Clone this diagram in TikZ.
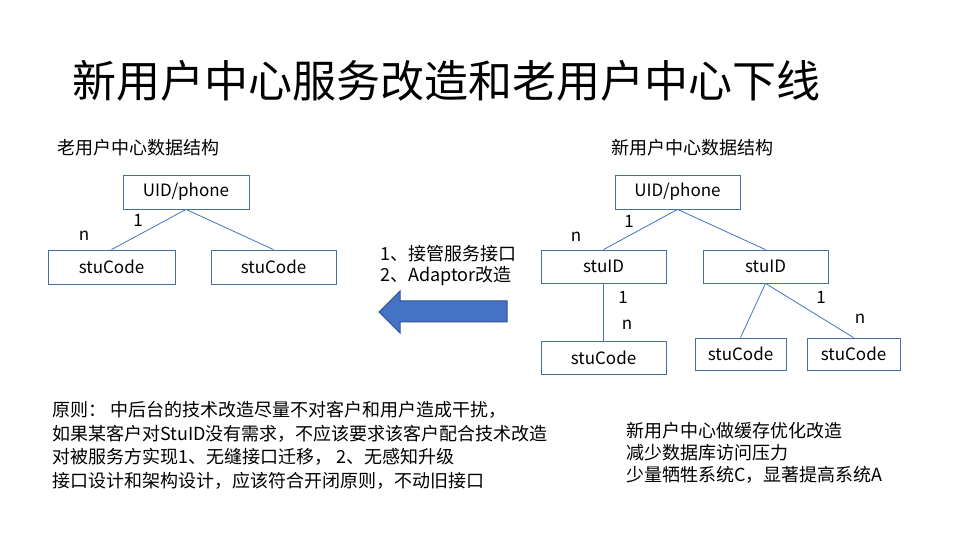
\documentclass[tikz,border=0pt]{standalone}
\usepackage{fontspec}
\setmainfont{Noto Sans CJK SC}
\definecolor{linec}{HTML}{4472C4}
\definecolor{boxc}{HTML}{41719C}
\definecolor{arrowfill}{HTML}{4472C4}
\definecolor{arrowedge}{HTML}{2F528F}
\begin{document}
\begin{tikzpicture}[x=1bp,y=-1bp,
  box/.style={draw=boxc,line width=0.8bp,inner sep=0pt,minimum height=34bp,font=\fontsize{17bp}{20bp}\selectfont},
  conn/.style={draw=linec,line width=0.8bp},
  lbl/.style={inner sep=0pt,font=\fontsize{17bp}{20bp}\selectfont},
  para/.style={inner sep=0pt,anchor=west,align=left,font=\fontsize{18bp}{23.5bp}\selectfont}]
\useasboundingbox (0,0) rectangle (960,540);
% title
\node[inner sep=0pt,anchor=west,font=\fontsize{44bp}{50bp}\selectfont] (title) at (72,81) {新用户中心服务改造和老用户中心下线};
% old tree
\node[para] (oldhead) at (57,148) {老用户中心数据结构};
\node[box,minimum width=126bp] (ouid) at (186,192) {UID/phone};
\node[box,minimum width=127bp] (os1) at (111.5,267) {stuCode};
\node[box,minimum width=125bp] (os2) at (273.5,267) {stuCode};
\draw[conn] (ouid.south) -- (os1.north);
\draw[conn] (ouid.south) -- (os2.north);
\node[lbl] (o1) at (138,220) {1};
\node[lbl] (on) at (84,236) {n};
% middle
\node[para,font=\fontsize{18bp}{21bp}\selectfont] (mid) at (380,265) {1、接管服务接口\\2、Adaptor改造};
\fill[arrowfill,draw=arrowedge,line width=1bp] (379,312) -- (400,291) -- (400,301) -- (507,301) -- (507,322) -- (400,322) -- (400,333) -- cycle;
% new tree
\node[para] (newhead) at (611,148) {新用户中心数据结构};
\node[box,minimum width=125bp] (nuid) at (677.5,192) {UID/phone};
\node[box,minimum width=125bp,minimum height=33bp] (nid1) at (603.5,266.5) {stuID};
\node[box,minimum width=125bp,minimum height=33bp] (nid2) at (765.5,266.5) {stuID};
\node[box,minimum width=125bp,minimum height=33bp] (nc1) at (603.5,357.5) {stuCode};
\node[box,minimum width=91bp,minimum height=32bp] (nc2) at (740.5,354) {stuCode};
\node[box,minimum width=93bp,minimum height=32bp] (nc3) at (853.5,354) {stuCode};
\draw[conn] (nuid.south) -- (nid1.north);
\draw[conn] (nuid.south) -- (nid2.north);
\draw[conn] (nid1.south) -- (nc1.north);
\draw[conn] (nid2.south) -- (nc2.north);
\draw[conn] (nid2.south) -- (nc3.north);
\node[lbl] (n1a) at (629,221) {1};
\node[lbl] (nna) at (576,237) {n};
\node[lbl] (n1b) at (623,297) {1};
\node[lbl] (nnb) at (627,325) {n};
\node[lbl] (n1c) at (821,297) {1};
\node[lbl] (nnc) at (860,319) {n};
% bottom texts
\node[para] (principle) at (52,445.5) {原则： 中后台的技术改造尽量不对客户和用户造成干扰，\\如果某客户对StuID没有需求，不应该要求该客户配合技术改造\\对被服务方实现1、无缝接口迁移， 2、无感知升级\\接口设计和架构设计，应该符合开闭原则，不动旧接口};
\node[para,font=\fontsize{18bp}{22bp}\selectfont] (cache) at (626,453) {新用户中心做缓存优化改造\\减少数据库访问压力\\少量牺牲系统C，显著提高系统A};
\end{tikzpicture}
\end{document}
